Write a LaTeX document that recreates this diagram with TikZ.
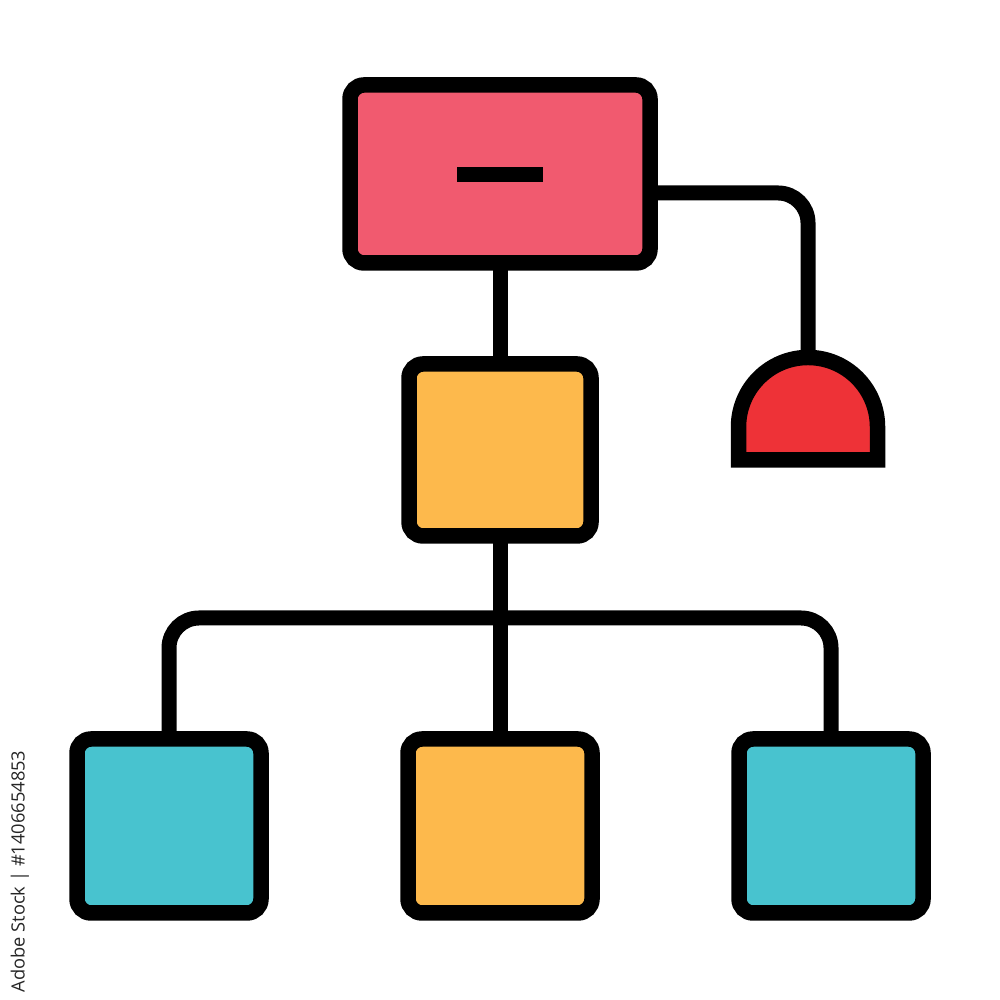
\documentclass[tikz,border=0pt]{standalone}
\usepackage{fontspec}
\newfontfamily\stockfont{Open Sans}
\definecolor{boxpink}{HTML}{F15A6F}
\definecolor{boxorange}{HTML}{FDB94C}
\definecolor{boxteal}{HTML}{48C3CF}
\definecolor{domered}{HTML}{EE3237}
\begin{document}
\begin{tikzpicture}[
		box/.style={draw, line width=0.155cm, rounded corners=0.14cm, inner sep=0pt, outer sep=0pt},
		wire/.style={line width=0.15cm, rounded corners=0.3cm}]
		\useasboundingbox (0,0) rectangle (10,10);

		\node[box, fill=boxpink, minimum width=3cm, minimum height=1.78cm] (head) at (5,8.26) {};
		\fill (4.57,8.18) rectangle (5.43,8.33);
		\node[box, fill=boxorange, minimum width=1.82cm, minimum height=1.72cm] (mid) at (5,5.5) {};

		\node[box, fill=boxteal, minimum width=1.84cm, minimum height=1.74cm] (left) at (1.69,1.74) {};
		\node[box, fill=boxorange, minimum width=1.84cm, minimum height=1.74cm] (centre) at (5,1.74) {};
		\node[box, fill=boxteal, minimum width=1.84cm, minimum height=1.74cm] (right) at (8.31,1.74) {};

		% dome on the right
		\coordinate (dome) at (8.08,6.43);
		\draw[line width=0.155cm, fill=domered] (7.385,5.40) -- (7.385,5.73) arc (180:0:0.695) -- (8.775,5.40) -- cycle;

		\coordinate (tap) at (6.5,8.07);
		\coordinate (hub) at (5,3.82);
		\draw[wire] (tap) -| (dome);
		\draw[wire] (head) -- (mid);
		\draw[wire] (mid) -- (hub);
		\draw[wire] (left) |- (hub) -| (right);
		\draw[wire] (hub) -- (centre);

		\node[rotate=90, anchor=west, text=black!85, inner sep=0pt] (stock) at (0.2,0.07) {\stockfont\fontsize{5.2}{6}\selectfont Adobe Stock | \#1406654853};
	\end{tikzpicture}
\end{document}
